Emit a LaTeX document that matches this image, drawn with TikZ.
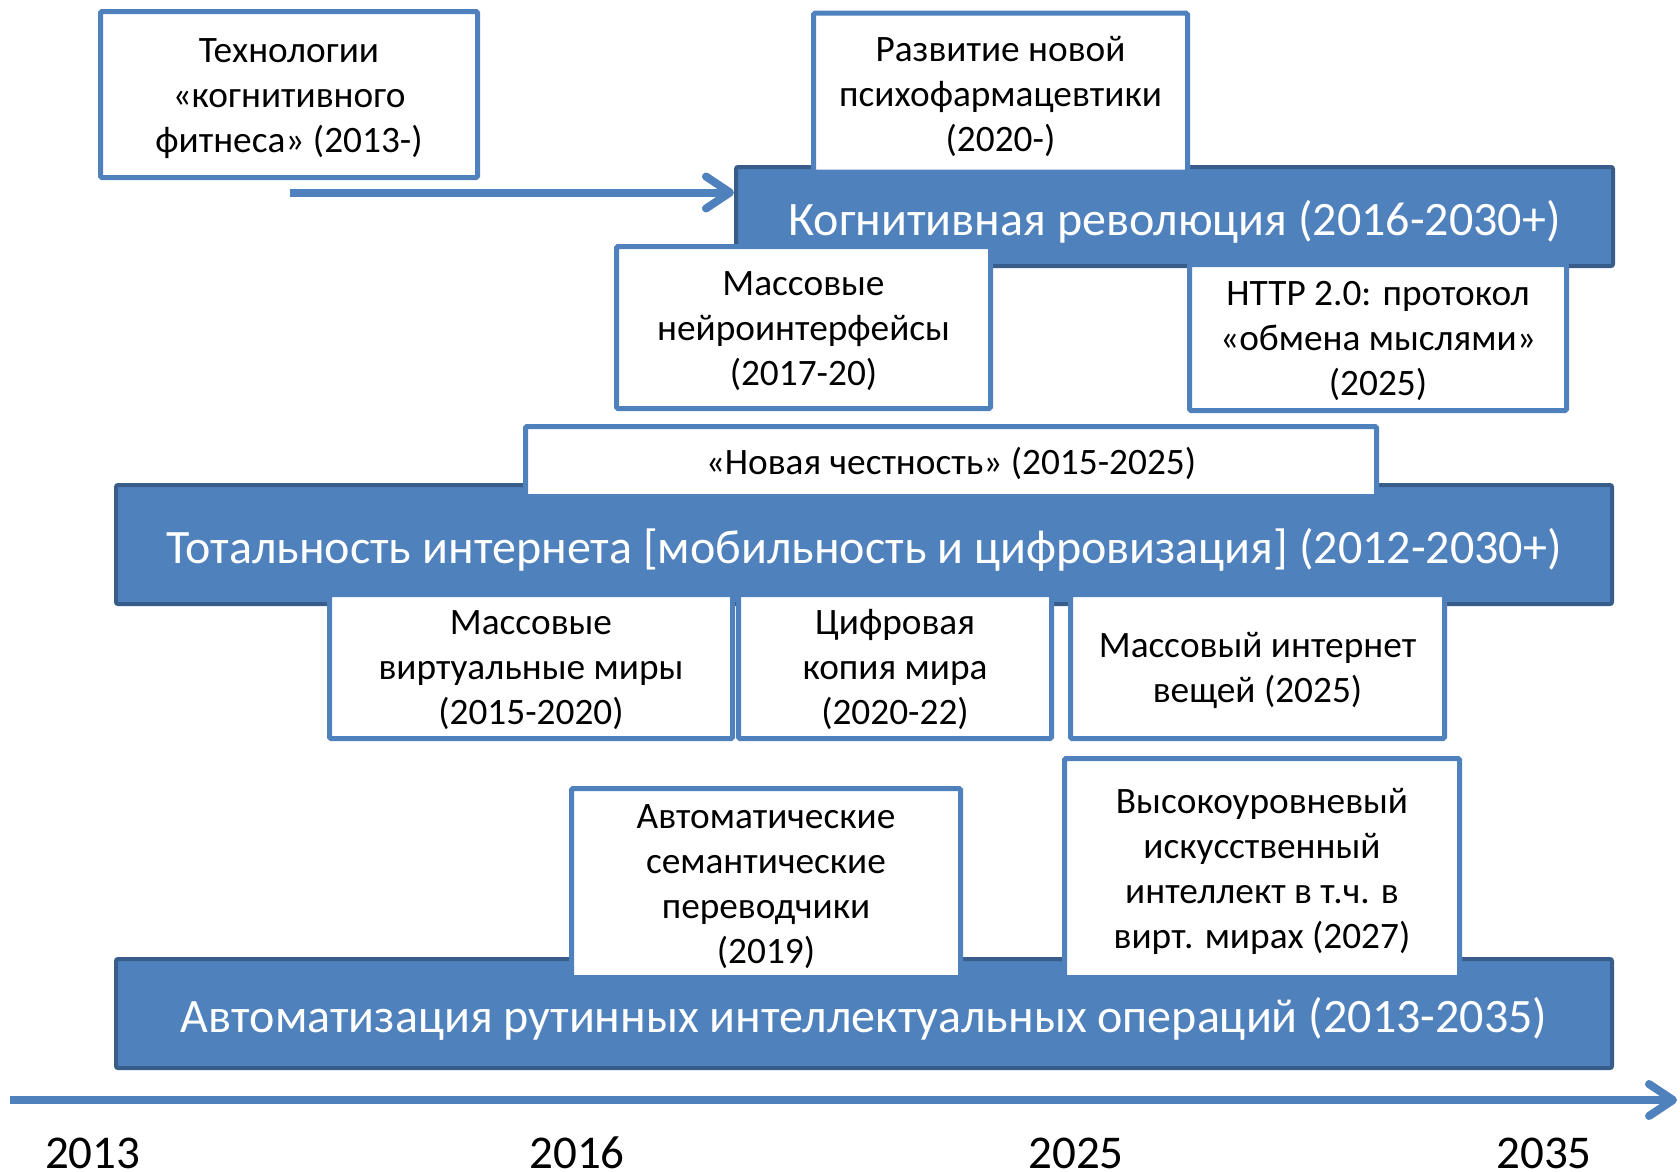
\documentclass[tikz,border=0pt]{standalone}
\usepackage{fontspec}
\setmainfont{Carlito}
\usetikzlibrary{arrows.meta}
\definecolor{barfill}{HTML}{4F81BD}
\definecolor{barline}{HTML}{385D8A}
\newcommand{\barstrutA}{\rule{0pt}{1.06em}}
\newcommand{\cs}{\rule{0pt}{0.99em}}
\newcommand{\pptstrutB}{\rule[-0.269em]{0pt}{0.269em}}
\begin{document}
\begin{tikzpicture}[x=1pt,y=-1pt,
  bar/.style={draw=barline, fill=barfill, line width=4pt, rounded corners=2pt, text=white,
    font=\fontsize{48}{58}\selectfont, inner sep=0pt,
    execute at begin node=\barstrutA, execute at end node=\pptstrutB},
  card/.style={draw=barfill, fill=white, line width=5pt, rounded corners=1.5pt, align=center,
    font=\fontsize{37.3}{45}\selectfont, inner sep=0pt,
    execute at end node=\pptstrutB},
  flow/.style={draw=barfill, line width=8pt, line cap=butt,
    -{Straight Barb[length=24pt, width=32pt, line cap=round, line join=round]}},
  year/.style={font=\fontsize{47}{54}\selectfont, anchor=base, inner sep=0pt}]
\useasboundingbox (0,0) rectangle (1680,1171);

% bars
\node[bar, minimum width=877pt, minimum height=99pt] (cog) at (1174.5,216.5) {Когнитивная революция (2016-2030+)};
\node[bar, minimum width=1496pt, minimum height=119pt] (tot) at (864,544.5) {Тотальность интернета [мобильность и цифровизация] (2012-2030+)};
\node[bar, minimum width=1496pt, minimum height=109pt] (aut) at (864,1013.5) {Автоматизация рутинных интеллектуальных операций (2013-2035)};

% cards
\node[card, minimum width=377pt, minimum height=166pt] (fit) at (289,94.5) {\cs Технологии\\«когнитивного\\фитнеса» (2013-)};
\node[card, minimum width=374pt, minimum height=159pt] (psy) at (1000.5,92.7) {\cs Развитие новой\\психофармацевтики\\(2020-)};
\node[card, minimum width=374pt, minimum height=162pt] (neu) at (803.5,327.5) {\cs Массовые\\нейроинтерфейсы\\(2017-20)};
\node[card, minimum width=377pt, minimum height=146pt] (http) at (1378,337.5) {\cs HTTP 2.0: протокол\\«обмена мыслями»\\(2025)};
\node[card, minimum width=851pt, minimum height=70pt] (hon) at (951,461.5) {\cs «Новая честность» (2015-2025)};
\node[card, minimum width=403pt, minimum height=144pt] (vir) at (531,666.5) {\cs Массовые\\виртуальные миры\\(2015-2020)};
\node[card, minimum width=313pt, minimum height=144pt] (dig) at (895,666.5) {\cs Цифровая\\копия мира\\(2020-22)};
\node[card, minimum width=374pt, minimum height=144pt] (iot) at (1257.5,666.5) {\cs Массовый интернет\\вещей (2025)};
\node[card, minimum width=389pt, minimum height=189pt] (tra) at (766,883) {\cs Автоматические\\семантические\\переводчики\\(2019)};
\node[card, minimum width=395pt, minimum height=219pt] (ai) at (1262,868) {\cs Высокоуровневый\\искусственный\\интеллект в т.ч. в\\вирт. мирах (2027)};

% arrows
\coordinate (fitstart) at (290,192.5);
\draw[flow] (fitstart) -- (fitstart -| cog.west);
\coordinate (axs) at (10,1100);
\coordinate (axe) at (1677,1100);
\draw[flow] (axs) -- (axe);

% years
\node[year] (y13) at (92.7,1168) {2013};
\node[year] (y16) at (577,1168) {2016};
\node[year] (y25) at (1076,1168) {2025};
\node[year] (y35) at (1544,1168) {2035};
\end{tikzpicture}
\end{document}
